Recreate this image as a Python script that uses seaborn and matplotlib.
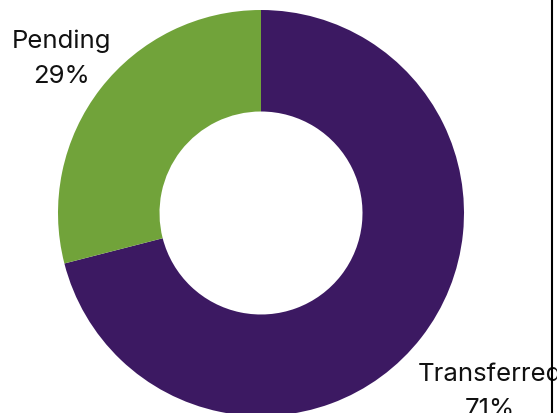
import matplotlib
matplotlib.use("Agg")
import matplotlib.pyplot as plt
import seaborn as sns
import numpy as np
from matplotlib.lines import Line2D

# data
labels = ["Transferred", "Pending"]
shares = [71, 29]
colors = ["#3c1962", "#71a33a"]
label_dist = [1.43, 1.245]

sns.set_theme(style="white")
plt.rcParams["font.family"] = ["Inter", "DejaVu Sans"]

fig = plt.figure(figsize=(5.57, 4.14), dpi=100)
ax = fig.add_axes([0, 0, 1, 1])

wedges, _ = ax.pie(shares, colors=colors, startangle=90, counterclock=False,
                   radius=1, wedgeprops=dict(width=0.5, linewidth=0))

# labels, centred on each slice's mid angle
total = sum(shares)
start = 90
for i, (lab, v) in enumerate(zip(labels, shares)):
    mid = start - v / total * 360 / 2
    start -= v / total * 360
    a = np.deg2rad(mid)
    ax.text(label_dist[i] * np.cos(a), label_dist[i] * np.sin(a),
            f"{lab}\n{round(v / total * 100)}%", ha="center", va="center",
            fontsize=18.5, color="#111111", linespacing=1.65)

# pixel-based view: centre at (261, 214) px, radius 203 px
W, H, cx, cy, r = 557, 414, 261, 214, 203
ax.set_xlim(-cx / r, (W - cx) / r)
ax.set_ylim(-(H - cy) / r, cy / r)
ax.set_aspect("equal")
ax.axis("off")

fig.add_artist(Line2D([552 / W, 552 / W], [0, 1], color="black", lw=1.5,
                      transform=fig.transFigure))

fig.savefig("out.png", dpi=100)
